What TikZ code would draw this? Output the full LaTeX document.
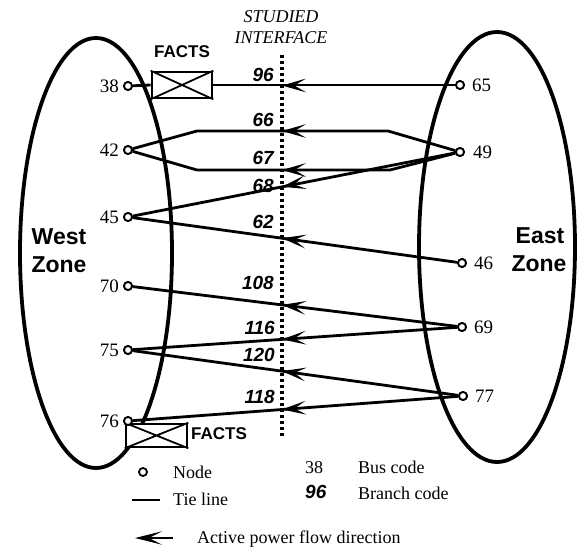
\documentclass[tikz,border=0pt]{standalone}
\usepackage{fontspec}
\setmainfont{Liberation Serif}
\setsansfont{Liberation Sans}
\usetikzlibrary{calc}

% barbed arrowhead: tip at #1, opening towards #2, length #3, half-angle #4
\newcommand\flowhead[4]{%
  \fill ($(#1)!#3!#4:(#2)$) -- (#1) -- ($(#1)!#3!-#4:(#2)$)
        -- ($(#1)!0.5*#3!(#2)$) -- cycle;}

\begin{document}
\begin{tikzpicture}[x=1pt,y=-1pt,
  bus/.style={circle,draw,line width=1.8pt,inner sep=0,minimum size=8,fill=white},
  busnum/.style={font=\fontsize{19}{19}\selectfont,inner sep=0},
  branch/.style={font=\sffamily\bfseries\itshape\fontsize{19}{19}\selectfont,anchor=east,inner sep=0},
  zonetxt/.style={font=\sffamily\bfseries\fontsize{23}{23}\selectfont,inner sep=0},
  factstxt/.style={font=\sffamily\bfseries\fontsize{17}{17}\selectfont,inner sep=0},
  legtxt/.style={font=\fontsize{18}{18}\selectfont,inner sep=0,anchor=base west},
  tie/.style={line width=2.8pt},
  zoneline/.style={line width=3.8pt},
  facts/.style={draw,line width=2.6pt,fill=white,minimum width=60,minimum height=26,inner sep=0},
  iface/.style={line width=4pt,dash pattern=on 3.4pt off 2.6pt}
]
\useasboundingbox (0,0) rectangle (578,548);

% zones
\draw[zoneline] (96,253) ellipse [x radius=76, y radius=215];
\draw[zoneline] (497,247) ellipse [x radius=78, y radius=215];
\node[zonetxt] (wz1) at (59,237) {West};
\node[zonetxt] (wz2) at (59,265) {Zone};
\node[zonetxt] (ez1) at (540,236) {East};
\node[zonetxt] (ez2) at (539,264) {Zone};

% studied interface
\node[font=\itshape\fontsize{18}{18}\selectfont,inner sep=0] (st1) at (281,17) {STUDIED};
\node[font=\itshape\fontsize{18}{18}\selectfont,inner sep=0] (st2) at (281,37.5) {INTERFACE};
\coordinate (ifT) at (282,55);
\coordinate (ifB) at (282,437);
\draw[iface] (ifT) -- (ifB);

% buses
\node[bus] (b38) at (128,86) {};
\node[bus] (b42) at (128,150) {};
\node[bus] (b45) at (128,217) {};
\node[bus] (b70) at (128,286) {};
\node[bus] (b75) at (128,350) {};
\node[bus] (b76) at (128,421) {};
\node[bus] (b65) at (460,85) {};
\node[bus] (b49) at (460,152) {};
\node[bus] (b46) at (462,263) {};
\node[bus] (b69) at (462,327) {};
\node[bus] (b77) at (463,396) {};

% FACTS devices
\node[facts] (f1) at (182,85) {};
\draw[line width=1.8pt] (f1.north west) -- (f1.south east) (f1.south west) -- (f1.north east);
\node[factstxt] (f1t) at (182,52) {FACTS};

% bend points of the double line 42--49
\coordinate (c66w) at (197,131);
\coordinate (c66e) at (388,131);
\coordinate (c67w) at (197,170);
\coordinate (c67e) at (390,170);

% tie lines
\begin{scope}[tie]
\draw (b38) -- (f1.west);
\draw (f1.east) -- (b65);
\draw (b42) -- (c66w) -- (c66e) -- (b49);
\draw (b42) -- (c67w) -- (c67e) -- (b49);
\draw (b45) -- (b49);
\draw (b45) -- (b46);
\draw (b70) -- (b69);
\draw (b75) -- (b69);
\draw (b75) -- (b77);
\draw (b76) -- (b77);
\end{scope}

\node[facts] (f2) at (156.5,435.5) [minimum width=61,minimum height=23] {};
\draw[line width=1.8pt] (f2.north west) -- (f2.south east) (f2.south west) -- (f2.north east);
\node[factstxt,anchor=west] (f2t) at (191,434) {FACTS};

% redraw buses on top
\foreach \b in {b38,b42,b45,b70,b75,b76,b65,b49,b46,b69,b77}
  \draw[line width=1.8pt,fill=white] (\b) circle (4);

% crossing points with the interface
\coordinate (t96) at (intersection of b38--b65 and ifT--ifB);
\coordinate (t66) at (intersection of c66w--c66e and ifT--ifB);
\coordinate (t67) at (intersection of c67w--c67e and ifT--ifB);
\coordinate (t68) at (intersection of b45--b49 and ifT--ifB);
\coordinate (t62) at (intersection of b45--b46 and ifT--ifB);
\coordinate (t108) at (intersection of b70--b69 and ifT--ifB);
\coordinate (t116) at (intersection of b75--b69 and ifT--ifB);
\coordinate (t120) at (intersection of b75--b77 and ifT--ifB);
\coordinate (t118) at (intersection of b76--b77 and ifT--ifB);

% power flow directions
\flowhead{t96}{b65}{25pt}{16}
\flowhead{t66}{c66e}{25pt}{16}
\flowhead{t67}{c67e}{25pt}{16}
\flowhead{t68}{b49}{25pt}{16}
\flowhead{t62}{b46}{25pt}{16}
\flowhead{t108}{b69}{25pt}{16}
\flowhead{t116}{b69}{25pt}{16}
\flowhead{t120}{b77}{25pt}{16}
\flowhead{t118}{b77}{25pt}{16}

% bus codes
\node[busnum,anchor=east] (l38) at ($(b38)+(-9,0)$) {38};
\node[busnum,anchor=east] (l42) at ($(b42)+(-9,0)$) {42};
\node[busnum,anchor=east] (l45) at ($(b45)+(-9,0)$) {45};
\node[busnum,anchor=east] (l70) at ($(b70)+(-9,0)$) {70};
\node[busnum,anchor=east] (l75) at ($(b75)+(-9,0)$) {75};
\node[busnum,anchor=east] (l76) at ($(b76)+(-9,0)$) {76};
\node[busnum,anchor=west] (l65) at ($(b65)+(12,0)$) {65};
\node[busnum,anchor=west] (l49) at ($(b49)+(13,0)$) {49};
\node[busnum,anchor=west] (l46) at ($(b46)+(12,0)$) {46};
\node[busnum,anchor=west] (l69) at ($(b69)+(12,0)$) {69};
\node[busnum,anchor=west] (l77) at ($(b77)+(12,0)$) {77};

% branch codes
\node[branch] (r96) at (274,74.5) {96};
\node[branch] (r66) at (274,120) {66};
\node[branch] (r67) at (274,158) {67};
\node[branch] (r68) at (274,186) {68};
\node[branch] (r62) at (274,222) {62};
\node[branch] (r108) at (274,283) {108};
\node[branch] (r116) at (275,328) {116};
\node[branch] (r120) at (275,355) {120};
\node[branch] (r118) at (275,397) {118};

% legend
\draw[line width=1.8pt] (143,472) circle (4);
\node[legtxt] (lg1) at (173,478) {Node};
\coordinate (tl1) at (132,500);
\coordinate (tl2) at (160,500);
\draw[tie] (tl1) -- (tl2);
\node[legtxt] (lg2) at (173,505) {Tie line};
\node[legtxt] (lg3) at (305,473) {38};
\node[legtxt] (lg4) at (358,473) {Bus code};
\node[legtxt,font=\sffamily\bfseries\itshape\fontsize{19}{19}\selectfont] (lg5) at (305,498) {96};
\node[legtxt] (lg6) at (358,499) {Branch code};
\coordinate (la1) at (173,538);
\coordinate (la2) at (135,538);
\draw[line width=2.8pt] (la1) -- ($(la2)!8pt!(la1)$);
\flowhead{la2}{la1}{28pt}{14}
\node[legtxt] (lg7) at (197,543) {Active power flow direction};
\end{tikzpicture}
\end{document}
